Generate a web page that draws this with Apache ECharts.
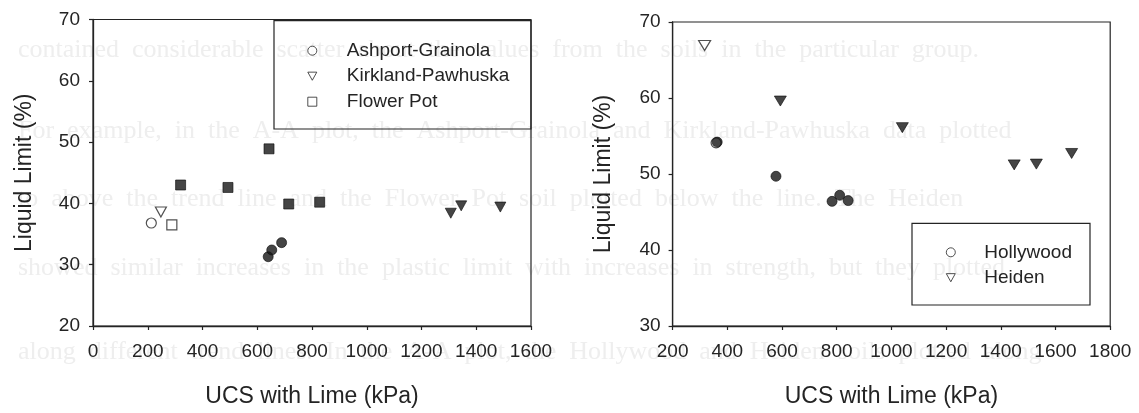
<!DOCTYPE html>
<html>
<head>
<meta charset="utf-8">
<style>
  html, body { margin: 0; padding: 0; background: #ffffff; }
  #chart { width: 1139px; height: 413px; }
</style>
<script src="https://cdn.jsdelivr.net/npm/echarts@6/dist/echarts.min.js"></script>
</head>
<body>
<div id="chart"></div>
<script>
// ---------- DATA ----------
// Left panel
const agOpen   = [[213, 36.8]];
const agFilled = [[640, 31.3], [653, 32.4], [689, 33.6]];
const kpOpen   = [[248, 38.6]];
const kpFilled = [[1307, 38.4], [1345, 39.6], [1488, 39.4]];
const fpOpen   = [[288, 36.5]];
const fpFilled = [[320, 43.0], [493, 42.6], [643, 48.9], [715, 39.9], [828, 40.2]];
// Right panel
const hwOpen   = [[359, 54.1]];
const hwFilled = [[363, 54.2], [578, 49.7], [783, 46.4], [811, 47.2], [842, 46.5]];
const hdOpen   = [[317, 66.9]];
const hdFilled = [[594, 59.6], [1040, 56.1], [1449, 51.2], [1530, 51.3], [1659, 52.7]];

const leftNames  = ['Ashport-Grainola', 'Kirkland-Pawhuska', 'Flower Pot'];
const rightNames = ['Hollywood', 'Heiden'];
const xTitle = 'UCS with Lime (kPa)';
const yTitle = 'Liquid Limit (%)';

// faint bleed-through text of the scanned page
const bleedLines = [
  'contained  considerable  scatter  about  the  values  from  the  soils  in  the  particular  group.',
  'For  example,  in  the  A-A  plot,  the  Ashport-Grainola  and  Kirkland-Pawhuska  data  plotted',
  'to  above  the  trend  line  and  the  Flower  Pot  soil  plotted  below  the  line.  The  Heiden',
  'showed  similar  increases  in  the  plastic  limit  with  increases  in  strength,  but  they  plotted',
  'along  different  trend  lines.  In  the  A-A  plot,  the  Hollywood  and  Heiden  soils  plotted  along'
];
const bleedY = [52, 133, 201, 270, 354];

// ---------- STYLE ----------
const ink = '#242424';
const font = 'Liberation Sans, Arial, sans-serif';

function pts(openArr, filledArr) {
  const open = openArr.map(p => ({ value: p, itemStyle: { color: '#ffffff', borderColor: ink, borderWidth: 1.2 } }));
  const filled = filledArr.map(p => ({ value: p, itemStyle: { color: '#161616', borderColor: '#0d0d0d', borderWidth: 0.8 } }));
  return open.concat(filled);
}

function xAxisCfg(gridIndex, min, max) {
  return {
    gridIndex, type: 'value', min, max, interval: 200,
    name: xTitle, nameLocation: 'middle', nameGap: 59,
    nameTextStyle: { fontFamily: font, fontSize: 23, color: ink },
    axisLine: { show: true, onZero: false, lineStyle: { color: ink, width: 1.3 } },
    axisTick: { show: true, inside: false, length: 4, lineStyle: { color: ink, width: 1.2 } },
    axisLabel: { fontFamily: font, fontSize: 19, color: ink, margin: 16, formatter: v => String(v) },
    splitLine: { show: false }
  };
}
function yAxisCfg(gridIndex, min, max, margin, gap) {
  return {
    gridIndex, type: 'value', min, max, interval: 10,
    name: yTitle, nameLocation: 'middle', nameGap: gap, nameRotate: 90,
    nameTextStyle: { fontFamily: font, fontSize: 23, color: ink },
    axisLine: { show: true, onZero: false, lineStyle: { color: ink, width: 1.3 } },
    axisTick: { show: true, inside: false, length: 4, lineStyle: { color: ink, width: 1.2 } },
    axisLabel: { fontFamily: font, fontSize: 19, color: ink, margin, formatter: v => String(v) },
    splitLine: { show: false }
  };
}

const triDown = 'path://M0,0 L10,0 L5,9 Z';
const openLegendStyle = { color: '#ffffff', borderColor: ink, borderWidth: 1 };

const graphics = bleedLines.map((t, i) => ({
  type: 'text', left: 18, top: bleedY[i] - 15, z: -10, silent: true,
  style: { text: t, fontFamily: 'Liberation Serif, Times New Roman, serif', fontSize: 26, fill: '#eeeeee' }
}));
graphics.push(
  { type: 'rect', z: 5, shape: { x: 274, y: 20.7, width: 257, height: 108.3 },
    style: { fill: 'rgba(255,255,255,0)', stroke: ink, lineWidth: 1.2 } },
  { type: 'rect', z: 5, shape: { x: 912, y: 223.3, width: 178, height: 81.7 },
    style: { fill: 'rgba(255,255,255,0)', stroke: ink, lineWidth: 1.2 } }
);

const option = {
  backgroundColor: '#ffffff',
  animation: false,
  grid: [
    { left: 93, top: 19.5, width: 438, height: 306.5, show: true, borderColor: ink, borderWidth: 1.2, backgroundColor: 'transparent' },
    { left: 672.6, top: 22, width: 437.6, height: 306.3, show: true, borderColor: ink, borderWidth: 1.2, backgroundColor: 'transparent' }
  ],
  xAxis: [ xAxisCfg(0, 0, 1600), xAxisCfg(1, 200, 1800) ],
  yAxis: [ yAxisCfg(0, 20, 70, 13, 56.5), yAxisCfg(1, 30, 70, 12, 57) ],
  legend: [
    {
      orient: 'vertical', left: 307.3, top: 39.7, padding: 0, itemGap: 3.5,
      itemWidth: 9, itemHeight: 9, selectedMode: false,
      textStyle: { fontFamily: font, fontSize: 19, color: ink, lineHeight: 22, padding: [0, 0, 0, 25] },
      data: [
        { name: leftNames[0], icon: 'circle', itemStyle: openLegendStyle },
        { name: leftNames[1], icon: triDown, itemStyle: openLegendStyle },
        { name: leftNames[2], icon: 'rect', itemStyle: openLegendStyle }
      ]
    },
    {
      orient: 'vertical', left: 945.8, top: 241.3, padding: 0, itemGap: 3.4,
      itemWidth: 9, itemHeight: 9, selectedMode: false,
      textStyle: { fontFamily: font, fontSize: 19, color: ink, lineHeight: 22, padding: [0, 0, 0, 24] },
      data: [
        { name: rightNames[0], icon: 'circle', itemStyle: openLegendStyle },
        { name: rightNames[1], icon: triDown, itemStyle: openLegendStyle }
      ]
    }
  ],
  graphic: graphics,
  series: [
    { name: leftNames[0], type: 'scatter', xAxisIndex: 0, yAxisIndex: 0, symbol: 'circle', symbolSize: 10,
      data: pts(agOpen, agFilled) },
    { name: leftNames[1], type: 'scatter', xAxisIndex: 0, yAxisIndex: 0, symbol: 'triangle', symbolRotate: 180, symbolSize: [11, 10],
      data: pts(kpOpen, kpFilled) },
    { name: leftNames[2], type: 'scatter', xAxisIndex: 0, yAxisIndex: 0, symbol: 'rect', symbolSize: 10,
      data: pts(fpOpen, fpFilled) },
    { name: rightNames[0], type: 'scatter', xAxisIndex: 1, yAxisIndex: 1, symbol: 'circle', symbolSize: 10,
      data: pts(hwOpen, hwFilled) },
    { name: rightNames[1], type: 'scatter', xAxisIndex: 1, yAxisIndex: 1, symbol: 'triangle', symbolRotate: 180, symbolSize: [12, 10],
      data: pts(hdOpen, hdFilled) }
  ]
};

const chart = echarts.init(document.getElementById('chart'), null, { renderer: 'canvas' });
chart.setOption(option);
</script>
</body>
</html>
